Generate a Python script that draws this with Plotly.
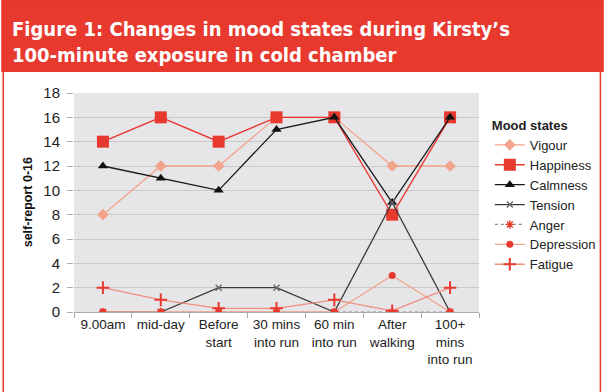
import plotly.graph_objects as go

categories = ["9.00am", "mid-day", "Before<br>start", "30 mins<br>into run",
              "60 min<br>into run", "After<br>walking", "100+<br>mins<br>into run"]
vigour = [8, 12, 12, 16, 16, 12, 12]
happiness = [14, 16, 14, 16, 16, 8, 16]
calmness = [12, 11, 10, 15, 16, 9, 16]
tension = [0, 0, 2, 2, 0, 9, 0]
anger = [0, 0, 0, 0, 0, 0, 0]
depression = [0, 0, 0, 0, 0, 3, 0]
fatigue = [2, 1, 0.3, 0.3, 1, 0.1, 2]
y_ticks = [0, 2, 4, 6, 8, 10, 12, 14, 16, 18]

W, H = 613, 392
L, R, T, B = 74, 486, 93, 312

def px(x):
    return (x - L) / (R - L)

def py(y):
    return (B - y) / (B - T)

RED = "#E8392F"
SALMON = "#F2A48C"
SALMON2 = "#EE8E7C"

fig = go.Figure()
fig.add_trace(go.Scatter(x=categories, y=vigour, name="Vigour", mode="lines+markers",
                         line=dict(color=SALMON, width=1.3),
                         marker=dict(symbol="diamond", size=9, color=SALMON)))
fig.add_trace(go.Scatter(x=categories, y=happiness, name="Happiness", mode="lines+markers",
                         line=dict(color=RED, width=1.3),
                         marker=dict(symbol="square", size=12, color=RED)))
fig.add_trace(go.Scatter(x=categories, y=calmness, name="Calmness", mode="lines+markers",
                         line=dict(color="#1a1a1a", width=1.3),
                         marker=dict(symbol="triangle-up", size=9, color="#111111")))
fig.add_trace(go.Scatter(x=categories, y=tension, name="Tension", mode="lines+markers",
                         line=dict(color="#3a3a3a", width=1.3),
                         marker=dict(symbol="x-thin-open", size=6, color="#666666",
                                     line=dict(width=1.3, color="#666666"))))
fig.add_trace(go.Scatter(x=categories, y=anger, name="Anger", mode="lines+markers",
                         line=dict(color="#888888", width=1.2, dash="dot"),
                         marker=dict(symbol="asterisk-open", size=7, color=RED,
                                     line=dict(width=1.3, color=RED))))
fig.add_trace(go.Scatter(x=categories, y=depression, name="Depression", mode="lines+markers",
                         line=dict(color=SALMON, width=1.3),
                         marker=dict(symbol="circle", size=7, color=RED)))
fig.add_trace(go.Scatter(x=categories, y=fatigue, name="Fatigue", mode="lines+markers",
                         line=dict(color=SALMON2, width=1.3),
                         marker=dict(symbol="cross-thin-open", size=9, color=RED,
                                     line=dict(width=2, color=RED))))

shapes = [
    dict(type="rect", xref="paper", yref="paper", x0=px(0), x1=px(W), y0=py(72), y1=py(0),
         fillcolor=RED, line=dict(width=0), layer="below"),
    dict(type="rect", xref="paper", yref="paper", x0=px(2), x1=px(609.5), y0=py(H + 5), y1=py(1),
         fillcolor="rgba(0,0,0,0)", line=dict(color=RED, width=1.5), layer="above"),
]

annotations = [
    dict(text="<b>Figure 1: Changes in mood states during Kirsty’s<br>100-minute exposure in cold chamber</b>",
         xref="paper", yref="paper", x=px(9), y=py(15), xanchor="left", yanchor="top",
         align="left", showarrow=False,
         font=dict(family="DejaVu Sans Condensed, Arial Narrow, sans-serif",
                   size=20, color="white")),
    dict(text="<b>self-report 0-16</b>", xref="paper", yref="paper", x=px(27), y=0.5,
         textangle=-90, showarrow=False, xanchor="center", yanchor="middle",
         font=dict(family="Liberation Sans, Arial, sans-serif", size=12.5, color="#111111")),
]

fig.update_layout(
    width=W, height=H,
    margin=dict(l=L, r=W - R, t=T, b=H - B),
    paper_bgcolor="white", plot_bgcolor="#E6E6E9",
    font=dict(family="Liberation Sans, Arial, sans-serif", size=13, color="#222222"),
    shapes=shapes, annotations=annotations,
    legend=dict(x=px(497), y=py(113), xanchor="left", yanchor="top",
                title=dict(text="<b>Mood states</b>", font=dict(size=13)),
                font=dict(size=13), bgcolor="rgba(0,0,0,0)", tracegroupgap=0,
                itemwidth=30),
    xaxis=dict(type="category", showgrid=False, showline=True, linecolor="#AAAAAA",
               ticks="outside", tickson="boundaries", ticklen=5, tickcolor="#AAAAAA",
               tickfont=dict(size=13.5), tickangle=0, automargin=False,
               zeroline=False, range=[-0.5, 6.5]),
    yaxis=dict(range=[0, 18], tickvals=y_ticks, showgrid=True, gridcolor="#C9C9C9",
               gridwidth=1, zeroline=False, showline=False, ticks="outside", ticklen=6,
               tickcolor="#AAAAAA", tickfont=dict(size=15), ticklabelstandoff=4,
               automargin=False),
)

fig.write_html("out.html", config={"displayModeBar": False},
               post_script="document.body.style.margin='0';document.body.style.overflow='hidden';")
